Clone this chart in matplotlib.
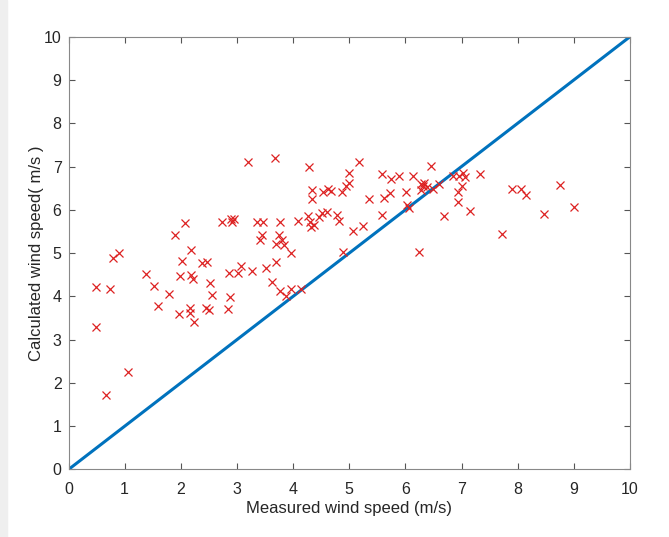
import matplotlib.pyplot as plt
from matplotlib.patches import Rectangle

plt.rcParams['font.family'] = ['Liberation Sans', 'DejaVu Sans']

# measured vs calculated wind speed (m/s)
measured = [0.49, 0.49, 0.66, 0.74, 0.80, 0.90, 1.06, 1.38, 1.52, 1.59,
            1.79, 1.90, 1.96, 1.99, 2.02, 2.07, 2.16, 2.16, 2.19, 2.19,
            2.22, 2.24, 2.37, 2.46, 2.45, 2.50, 2.52, 2.55, 2.73, 2.84,
            2.85, 2.88, 2.89, 2.94, 2.91, 3.02, 3.08, 3.20, 3.26, 3.35,
            3.46, 3.51, 3.44, 3.41, 3.62, 3.67, 3.70, 3.70, 3.75, 3.77,
            3.80, 3.83, 3.77, 3.87, 3.96, 3.96, 4.09, 4.14, 4.28, 4.27,
            4.30, 4.32, 4.38, 4.33, 4.34, 4.46, 4.52, 4.54, 4.60, 4.63,
            4.68, 4.78, 4.81, 4.87, 4.89, 4.94, 5.00, 5.00, 5.07, 5.17,
            5.25, 5.36, 5.58, 5.58, 5.62, 5.73, 5.74, 5.88, 6.01, 6.02,
            6.07, 6.14, 6.24, 6.27, 6.27, 6.31, 6.34, 6.38, 6.45, 6.50,
            6.59, 6.68, 6.85, 6.96, 7.03, 7.07, 7.00, 6.93, 6.94, 7.15,
            7.32, 7.72, 7.90, 8.06, 8.14, 8.46, 8.76, 9.00]
calculated = [4.21, 3.29, 1.72, 4.17, 4.88, 5.01, 2.25, 4.51, 4.25, 3.78,
              4.06, 5.42, 3.59, 4.47, 4.82, 5.70, 3.72, 3.61, 5.07, 4.49,
              4.39, 3.41, 4.76, 4.80, 3.74, 3.68, 4.30, 4.03, 5.71, 3.70,
              4.55, 3.98, 5.79, 5.79, 5.72, 4.53, 4.71, 7.10, 4.58, 5.71,
              5.71, 4.66, 5.42, 5.30, 4.34, 7.19, 4.79, 5.22, 5.42, 5.71,
              5.30, 5.18, 4.12, 4.02, 4.18, 5.01, 5.75, 4.17, 7.00, 5.86,
              5.72, 5.61, 5.64, 6.26, 6.45, 5.84, 5.92, 6.40, 5.95, 6.49,
              6.43, 5.88, 5.74, 6.42, 5.03, 6.55, 6.61, 6.85, 5.51, 7.10,
              5.63, 6.25, 6.82, 5.87, 6.28, 6.38, 6.71, 6.79, 6.42, 6.11,
              6.05, 6.79, 5.02, 6.45, 6.60, 6.55, 6.63, 6.52, 7.01, 6.49,
              6.59, 5.85, 6.78, 6.78, 6.84, 6.75, 6.55, 6.42, 6.18, 5.98,
              6.82, 5.45, 6.48, 6.48, 6.34, 5.91, 6.57, 6.06]

ideal = [0, 10]
ticks = list(range(0, 11))

fig = plt.figure(figsize=(6.69, 5.37), dpi=100)
# light grey strip on the left edge of the screenshot
fig.patches.append(Rectangle((0, 0), 7 / 669, 1, transform=fig.transFigure,
                             color='#efefef', zorder=0))

ax = fig.add_axes([0.1024, 0.1257, 0.8393, 0.806])
ax.plot(ideal, ideal, color='#0072BD', lw=2.2)
ax.plot(measured, calculated, 'x', color='#dd2222', ms=5.5, mew=0.9)

ax.set_xlim(0, 10)
ax.set_ylim(0, 10)
ax.set_xticks(ticks)
ax.set_yticks(ticks)
ax.tick_params(direction='in', top=True, right=True, length=4,
               color='#555555', labelsize=11.5, labelcolor='#262626')
ax.tick_params(axis='x', pad=9)
ax.tick_params(axis='y', pad=5)
for s in ax.spines.values():
    s.set_color('#888888')
    s.set_linewidth(0.8)

ax.set_xlabel('Measured wind speed (m/s)', fontsize=12, color='#262626',
              labelpad=3)
ax.set_ylabel('Calculated wind speed( m/s )', fontsize=12, color='#262626',
              labelpad=0)

fig.savefig('out.png', dpi=100)
